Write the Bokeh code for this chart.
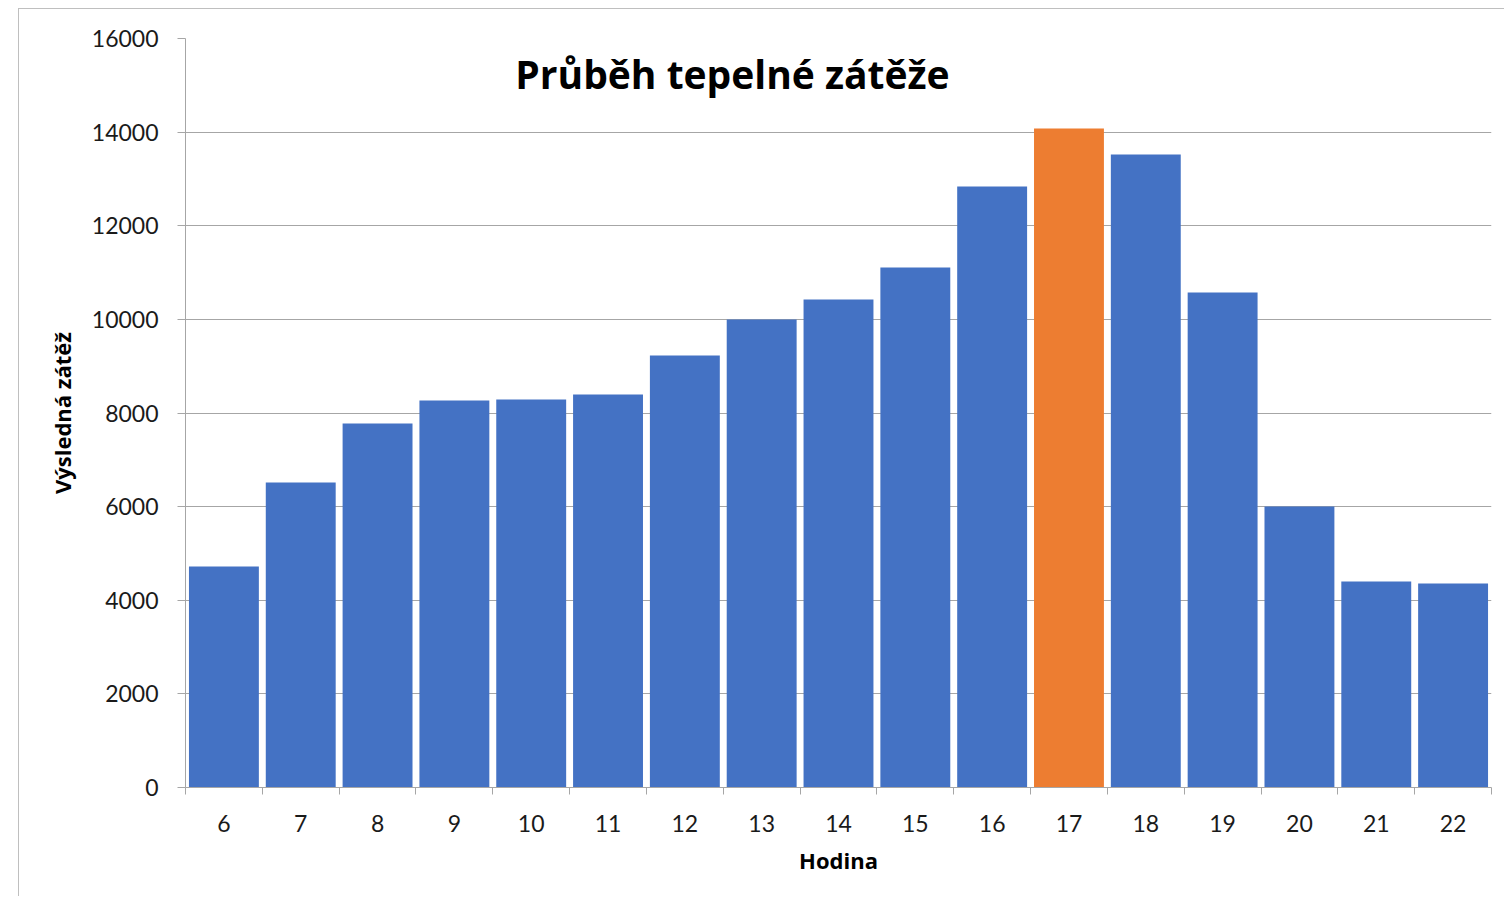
from bokeh.plotting import figure
from bokeh.models import FixedTicker, Label, ColumnDataSource, Range1d, NumeralTickFormatter
from bokeh.embed import file_html
from bokeh.resources import INLINE

# ---- data ----
hours = [6, 7, 8, 9, 10, 11, 12, 13, 14, 15, 16, 17, 18, 19, 20, 21, 22]
load = [4720, 6515, 7775, 8265, 8290, 8395, 9230, 10000, 10425, 11110,
        12840, 14080, 13520, 10575, 6005, 4400, 4360]
y_ticks = [0, 2000, 4000, 6000, 8000, 10000, 12000, 14000, 16000]
title_text = "Průběh tepelné zátěže"
x_label = "Hodina"
y_label = "Výsledná zátěž"

BLUE = "#4472C4"
ORANGE = "#ED7D31"
peak = max(load)
colors = [ORANGE if v == peak else BLUE for v in load]

src = ColumnDataSource(dict(hour=hours, load=load, color=colors))

FONT = "Lato"
BOLD_FONT = "Open Sans"
GRID = "#a6a6a6"

p = figure(width=1486, height=888,
           x_range=Range1d(hours[0] - 0.5, hours[-1] + 0.5),
           y_range=Range1d(y_ticks[0], y_ticks[-1]),
           output_backend="svg", toolbar_location=None,
           min_border_left=166, min_border_right=14,
           min_border_top=29, min_border_bottom=110)
p.margin = (8, 0, 0, 18)
p.styles = {"border-left": "1px solid #bfbfbf", "border-top": "1px solid #bfbfbf"}

p.vbar(x="hour", top="load", width=0.91, fill_color="color",
       line_color=None, source=src)

p.outline_line_color = None
p.xgrid.visible = False
p.ygrid.grid_line_color = GRID
p.ygrid.grid_line_width = 1
p.ygrid.ticker = FixedTicker(ticks=y_ticks)

# x axis
xa = p.xaxis[0]
xa.ticker = FixedTicker(ticks=hours,
                        minor_ticks=[h - 0.5 for h in hours] + [hours[-1] + 0.5])
xa.major_tick_out = 0
xa.major_tick_in = 0
xa.minor_tick_out = 7
xa.minor_tick_in = 0
xa.minor_tick_line_color = GRID
xa.axis_line_color = GRID
xa.major_label_text_font = FONT
xa.major_label_text_font_size = "23px"
xa.major_label_text_color = "#1a1a1a"
xa.major_label_standoff = 20
xa.axis_label = x_label
xa.axis_label_text_font = BOLD_FONT
xa.axis_label_text_font_style = "bold"
xa.axis_label_text_font_size = "22px"
xa.axis_label_text_color = "#000000"
xa.axis_label_standoff = 10

# y axis
ya = p.yaxis[0]
ya.ticker = FixedTicker(ticks=y_ticks)
ya.formatter = NumeralTickFormatter(format="0")
ya.major_tick_out = 8
ya.major_tick_in = 0
ya.major_tick_line_color = GRID
ya.minor_tick_line_color = None
ya.axis_line_color = GRID
ya.major_label_text_font = FONT
ya.major_label_text_font_size = "23px"
ya.major_label_text_color = "#1a1a1a"
ya.major_label_standoff = 19
ya.axis_label = y_label
ya.axis_label_text_font = BOLD_FONT
ya.axis_label_text_font_style = "bold"
ya.axis_label_text_font_size = "22px"
ya.axis_label_text_color = "#000000"
ya.axis_label_standoff = 12

title = Label(x=12.62, y=15250, text=title_text, text_align="center",
              text_baseline="middle", text_font=BOLD_FONT, text_font_style="bold",
              text_font_size="39px", text_color="#000000")
p.add_layout(title)

open("out.html", "w").write(file_html(p, INLINE))
